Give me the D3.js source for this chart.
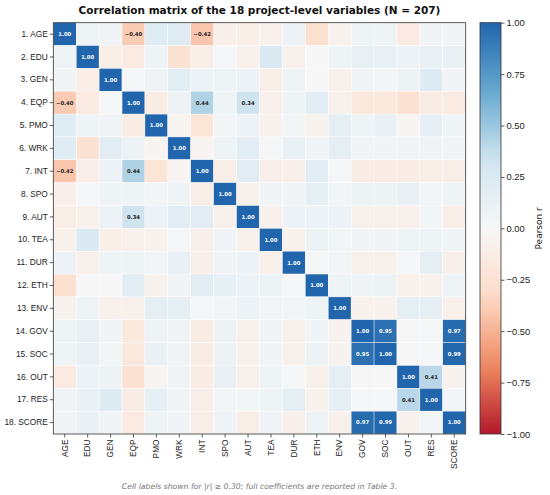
<!DOCTYPE html>
<html>
<head>
    <meta charset="utf-8">
    <script src="https://d3js.org/d3.v7.min.js"></script>
    <style>
        body { margin: 0; background: #fff; }
        svg { font-family: "DejaVu Sans", sans-serif; }
        .tick text { font-size: 8.3px; fill: #222; }
        .tick line { stroke: #333; stroke-width: 0.8; }
        .cb .tick text { font-size: 9.4px; }
        .cell-label { font-size: 5.3px; font-weight: bold; }
    </style>
</head>
<body>
<script>
    // variable names, in matrix order
    let variables = ["AGE", "EDU", "GEN", "EQP", "PMO", "WRK", "INT", "SPO", "AUT",
                     "TEA", "DUR", "ETH", "ENV", "GOV", "SOC", "OUT", "RES", "SCORE"];

    // upper triangle of the correlation matrix (row i, columns i+1 .. 17)
    let upper = [
        [0.08, 0.06, -0.40, 0.20, 0.20, -0.42, -0.09, -0.11, -0.08, 0.10, -0.27, -0.06, 0.08, 0.08, -0.15, 0.05, 0.05],
        [-0.12, -0.15, 0.08, -0.24, -0.11, 0.02, -0.08, 0.25, -0.08, 0.00, 0.08, 0.13, 0.13, 0.10, 0.11, 0.11],
        [0.02, 0.07, 0.18, 0.10, 0.08, 0.10, -0.10, 0.08, 0.00, -0.08, 0.06, 0.04, 0.09, 0.22, 0.06],
        [-0.13, 0.09, 0.44, 0.08, 0.34, -0.08, 0.08, 0.18, -0.08, -0.18, -0.18, -0.25, -0.13, -0.15],
        [-0.04, -0.22, 0.04, 0.10, -0.06, 0.04, -0.06, 0.17, 0.08, 0.11, -0.04, 0.15, 0.08],
        [-0.04, 0.08, 0.18, 0.02, 0.11, 0.06, 0.17, 0.06, 0.06, 0.06, 0.06, 0.06],
        [-0.11, 0.18, -0.09, -0.09, 0.18, 0.02, -0.13, -0.13, -0.13, -0.11, -0.11],
        [-0.08, 0.06, 0.06, 0.15, 0.04, 0.09, 0.09, 0.13, 0.04, 0.08],
        [-0.08, 0.10, 0.10, 0.10, -0.08, -0.08, -0.08, 0.04, -0.11],
        [-0.08, 0.09, 0.04, 0.06, 0.06, 0.08, 0.08, 0.06],
        [0.02, 0.04, -0.08, -0.08, 0.02, 0.17, -0.09],
        [0.08, 0.06, 0.09, -0.08, -0.06, 0.08],
        [-0.06, -0.06, 0.17, 0.15, -0.08],
        [0.95, 0.01, 0.02, 0.97],
        [0.01, 0.02, 0.99],
        [0.41, -0.06],
        [0.04],
        []
    ];

    let colorbarTicks = [-1, -0.75, -0.5, -0.25, 0, 0.25, 0.5, 0.75, 1];
    let labelThreshold = 0.30;

    // build the full symmetric matrix as a flat list of cells
    let n = variables.length;
    let cells = [];
    for (let i = 0; i < n; i++) {
        for (let j = 0; j < n; j++) {
            let r;
            if (i === j) r = 1;
            else if (j > i) r = upper[i][j - i - 1];
            else r = upper[j][i - j - 1];
            cells.push({ row: variables[i], col: variables[j], r: r });
        }
    }

    let width = 550, height = 495;
    let plotLeft = 53.3, plotRight = 465.7, plotTop = 22.7, plotBottom = 434;

    let svg = d3.select("body").append("svg")
        .attr("width", width)
        .attr("height", height);

    let x = d3.scaleBand().domain(variables).range([plotLeft, plotRight]);
    let y = d3.scaleBand().domain(variables).range([plotTop, plotBottom]);

    // RdBu (7 class) reversed, -1 .. 1
    let color = d3.scaleLinear()
        .domain([-1, -2 / 3, -1 / 3, 0, 1 / 3, 2 / 3, 1])
        .range(["#b2182b", "#ef8a62", "#fddbc7", "#f7f7f7", "#d1e5f0", "#67a9cf", "#2166ac"])
        .interpolate(d3.interpolateRgb);

    let fmt = d3.format(".2f");

    // heatmap cells
    svg.append("g").selectAll("rect")
        .data(cells)
        .enter().append("rect")
        .attr("x", d => x(d.col))
        .attr("y", d => y(d.row))
        .attr("width", x.bandwidth())
        .attr("height", y.bandwidth())
        .attr("fill", d => color(d.r))
        .attr("stroke", "#fff")
        .attr("stroke-width", 0.4);

    // labels for the strong coefficients
    svg.append("g").selectAll("text")
        .data(cells.filter(d => Math.abs(d.r) >= labelThreshold))
        .enter().append("text")
        .attr("class", "cell-label")
        .attr("x", d => x(d.col) + x.bandwidth() / 2)
        .attr("y", d => y(d.row) + y.bandwidth() / 2)
        .attr("dy", "0.36em")
        .attr("text-anchor", "middle")
        .attr("fill", d => Math.abs(d.r) >= 0.6 ? "#fff" : "#222")
        .text(d => fmt(d.r));

    // frame
    svg.append("rect")
        .attr("x", plotLeft).attr("y", plotTop)
        .attr("width", plotRight - plotLeft).attr("height", plotBottom - plotTop)
        .attr("fill", "none")
        .attr("stroke", "#333")
        .attr("stroke-width", 0.8);

    // y axis
    let yAxis = svg.append("g")
        .attr("transform", `translate(${plotLeft},0)`)
        .call(d3.axisLeft(y).tickSize(3.5).tickPadding(2)
            .tickFormat(d => `${variables.indexOf(d) + 1}. ${d}`));
    yAxis.select(".domain").remove();

    // x axis, labels rotated
    let xAxis = svg.append("g")
        .attr("transform", `translate(0,${plotBottom})`)
        .call(d3.axisBottom(x).tickSize(3.5).tickPadding(2));
    xAxis.select(".domain").remove();
    xAxis.selectAll(".tick text")
        .attr("transform", "rotate(-90)")
        .attr("text-anchor", "end")
        .attr("x", -5.5)
        .attr("y", 0)
        .attr("dy", "0.33em");

    // title
    svg.append("text")
        .attr("x", (plotLeft + plotRight) / 2)
        .attr("y", 14)
        .attr("text-anchor", "middle")
        .style("font-size", "10.5px")
        .style("font-weight", "bold")
        .style("fill", "#111")
        .text("Correlation matrix of the 18 project-level variables (N = 207)");

    // colorbar
    let cbLeft = 480, cbWidth = 21;
    let cbScale = d3.scaleLinear().domain([-1, 1]).range([plotBottom, plotTop]);

    let grad = svg.append("defs").append("linearGradient")
        .attr("id", "cbgrad")
        .attr("x1", 0).attr("y1", 1).attr("x2", 0).attr("y2", 0);
    grad.selectAll("stop")
        .data(d3.range(0, 1.0001, 0.05))
        .enter().append("stop")
        .attr("offset", d => d)
        .attr("stop-color", d => color(d * 2 - 1));

    svg.append("rect")
        .attr("x", cbLeft).attr("y", plotTop)
        .attr("width", cbWidth).attr("height", plotBottom - plotTop)
        .attr("fill", "url(#cbgrad)")
        .attr("stroke", "#333")
        .attr("stroke-width", 0.8);

    let cbAxis = svg.append("g")
        .attr("class", "cb")
        .attr("transform", `translate(${cbLeft + cbWidth},0)`)
        .call(d3.axisRight(cbScale).tickValues(colorbarTicks).tickSize(3.5).tickPadding(2)
            .tickFormat(fmt));
    cbAxis.select(".domain").remove();

    svg.append("text")
        .attr("transform", `translate(542,${(plotTop + plotBottom) / 2}) rotate(-90)`)
        .attr("text-anchor", "middle")
        .style("font-size", "9px")
        .style("fill", "#222")
        .text("Pearson r");

    // footnote
    svg.append("text")
        .attr("x", (plotLeft + plotRight) / 2)
        .attr("y", 489)
        .attr("text-anchor", "middle")
        .style("font-size", "7.7px")
        .style("font-style", "italic")
        .style("fill", "#777")
        .text("Cell labels shown for |r| \u2265 0.30; full coefficients are reported in Table 3.");
</script>
</body>
</html>
